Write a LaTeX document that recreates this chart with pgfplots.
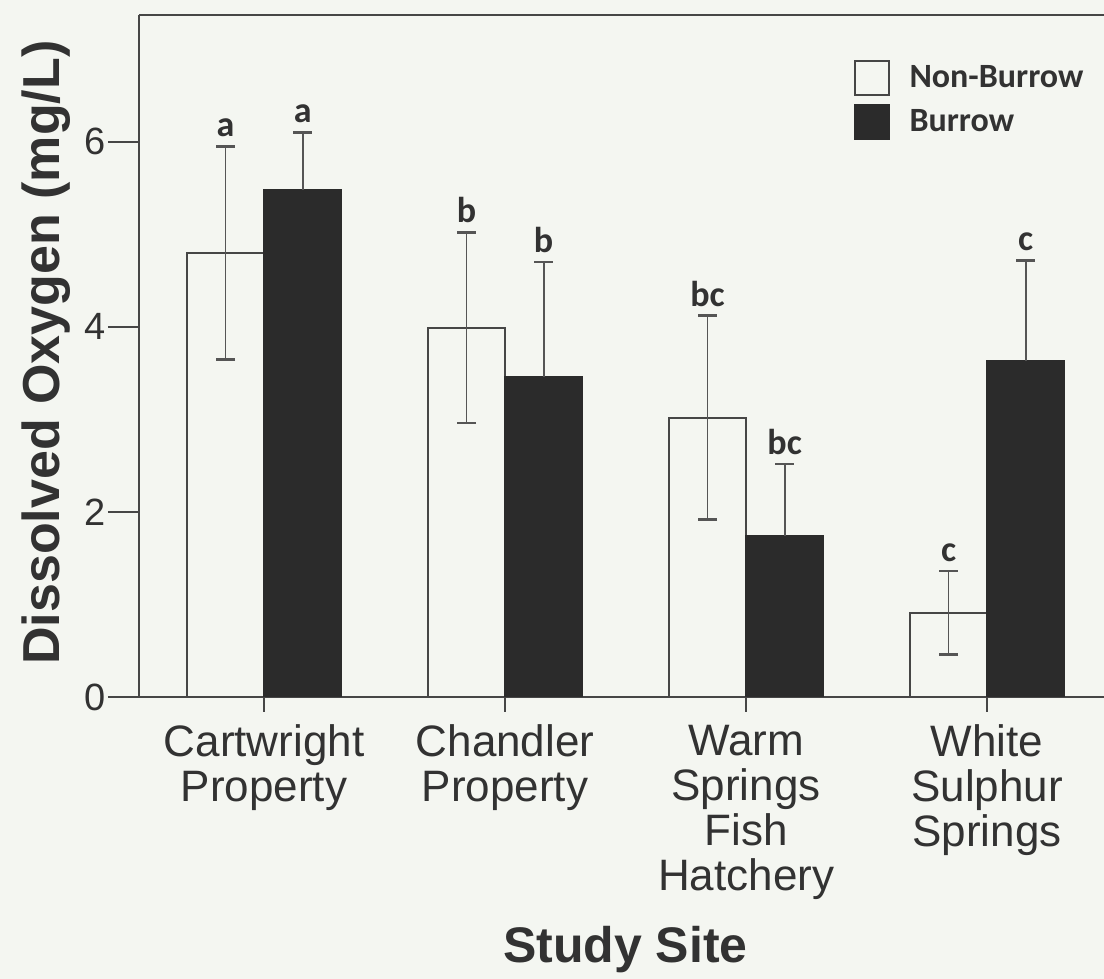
\documentclass[border=0pt]{standalone}
\usepackage{pgfplots}
\usepackage{pgfplotstable}
\pgfplotsset{compat=1.18}
\usepackage{fontspec}
\setmainfont{Liberation Sans}
\newfontfamily\calib{Carlito}
\definecolor{bgcol}{RGB}{244,246,241}
\definecolor{txt}{RGB}{50,50,50}
\definecolor{axc}{RGB}{70,70,70}
\definecolor{barb}{RGB}{43,43,43}
\definecolor{errc}{RGB}{85,85,85}

\pgfplotstableread{
x y e
-0.16 4.80 1.15
0.84 3.99 1.03
1.84 3.02 1.10
2.84 0.91 0.45
}\nonburrow
\pgfplotstableread{
x y e
0.16 5.48 0.62
1.16 3.46 1.24
2.16 1.74 0.78
3.16 3.63 1.09
}\burrow
\pgfplotstableread{
x y lab
-0.16 5.95 a
0.16 6.10 a
0.84 5.02 b
1.16 4.70 b
1.84 4.12 bc
2.16 2.52 bc
2.84 1.36 c
3.16 4.72 c
}\letters

\begin{document}
\begin{tikzpicture}
\path[use as bounding box, fill=bgcol] (-69.5pt,-141pt) rectangle (482.5pt,348.5pt);
\begin{axis}[
  at={(0pt,0pt)}, anchor=south west,
  scale only axis, width=482.5pt, height=341pt,
  xmin=-0.519, xmax=3.485, ymin=0, ymax=7.37,
  axis lines=left, axis line style={-, axc, line width=1pt},
  tick align=outside, major tick length=15.5pt,
  tick style={axc, line width=1pt},
  x tick style={/pgfplots/major tick length=7.5pt},
  /pgf/number format/assume math mode=true,
  xtick={0,1,2,3},
  xticklabels={{Cartwright\\Property},{Chandler\\Property},{Warm\\Springs\\Fish\\Hatchery},{White\\Sulphur\\Springs}},
  xticklabel style={align=center, font=\fontsize{22}{22.5}\selectfont, text=txt, yshift=5pt},
  ytick={0,2,4,6},
  yticklabel style={font=\fontsize{19}{19}\selectfont, text=txt, inner sep=1pt},
  ylabel={Dissolved Oxygen (mg/L)},
  ylabel style={at={(axis description cs:-0.0819,0.505)}, anchor=base, font=\bfseries\fontsize{26}{26}\selectfont, text=txt},
  xlabel={Study Site},
  xlabel style={at={(axis description cs:0.504,-0.3886)}, anchor=base, font=\bfseries\fontsize{25}{25}\selectfont, text=txt},
  legend image code/.code={\draw[#1] (0pt,-8.5pt) rectangle (17pt,8.5pt);},
  legend cell align=left,
  legend style={at={(axis description cs:0.740,0.934)}, anchor=north west, draw=none, fill=none, inner sep=0pt, row sep=4pt, font=\calib\bfseries\fontsize{17}{17}\selectfont, text=txt, /tikz/every odd column/.append style={column sep=8pt}},
]
\addplot[ybar, bar width=0.32, bar shift=0, draw=axc, fill=bgcol, line width=1pt,
  error bars/.cd, y dir=both, y explicit,
  error bar style={errc, line width=0.9pt},
  error mark options={errc, rotate=90, line width=1.3pt, mark size=4.75pt}]
  table[x=x, y=y, y error=e] {\nonburrow};
\addlegendentry{Non-Burrow}
\addplot[ybar, bar width=0.32, bar shift=0, draw=barb, fill=barb, line width=1pt,
  error bars/.cd, y dir=plus, y explicit,
  error bar style={errc, line width=0.9pt},
  error mark options={errc, rotate=90, line width=1.3pt, mark size=4.75pt}]
  table[x=x, y=y, y error=e] {\burrow};
\addlegendentry{Burrow}
\addplot[forget plot, draw=none, mark=none, nodes near coords, point meta=explicit symbolic,
  nodes near coords style={font=\calib\bfseries\fontsize{18}{18}\selectfont, text=txt, anchor=south, inner sep=0pt, yshift=4.5pt}]
  table[x=x, y=y, meta=lab] {\letters};
\draw[axc, line width=1pt] (rel axis cs:0,1) -- (rel axis cs:1,1);
\end{axis}
\end{tikzpicture}
\end{document}
